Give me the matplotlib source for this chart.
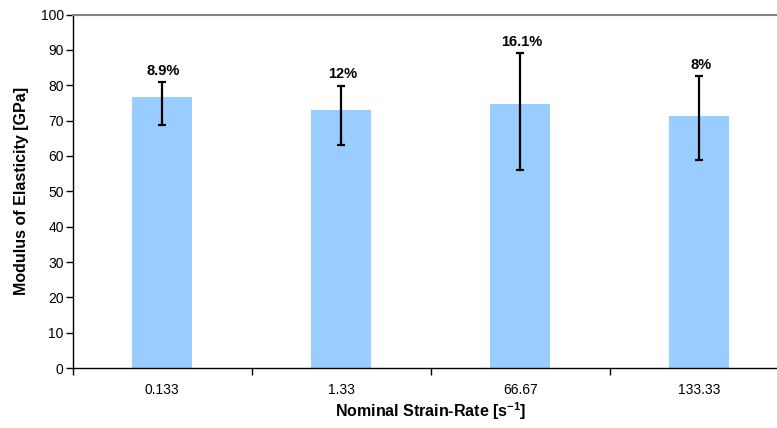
import numpy as np
import matplotlib.pyplot as plt

plt.rcParams['font.family'] = ['Liberation Sans', 'DejaVu Sans']
plt.rcParams['mathtext.fontset'] = 'custom'
plt.rcParams['mathtext.rm'] = 'Liberation Sans'
plt.rcParams['mathtext.bf'] = 'Liberation Sans:bold'

# datos
rates = ['0.133', '1.33', '66.67', '133.33']
modulus = [76.7, 73.0, 74.7, 71.3]
err_high = [81.0, 79.9, 89.2, 82.6]
err_low = [68.8, 63.0, 56.1, 58.8]
cov_labels = ['8.9%', '12%', '16.1%', '8%']

fig = plt.figure(figsize=(7.77, 4.28), dpi=100)
ax = fig.add_axes([0.0936, 0.14, 0.9215, 0.826])

x = np.arange(len(rates))
yerr = [np.array(modulus) - np.array(err_low), np.array(err_high) - np.array(modulus)]

ax.bar(x, modulus, width=0.335, color='#99CCFF', zorder=2)
ax.errorbar(x, modulus, yerr=yerr, fmt='none', ecolor='black',
            elinewidth=1.6, capsize=3, capthick=1.6, zorder=3)

for xi, top, lab in zip(x, err_high, cov_labels):
    ax.annotate(lab, (xi, top), xytext=(1, 3), textcoords='offset points',
                ha='center', va='bottom', fontsize=10.5, fontweight='bold')

ax.set_xlim(-0.5, len(rates) - 0.5)
ax.set_ylim(0, 100)
ax.set_yticks(np.arange(0, 101, 10))
ax.set_xticks(x)
ax.set_xticklabels(rates)
ax.set_xticks(np.arange(-0.5, len(rates), 1.0), minor=True)
ax.tick_params(axis='x', which='major', length=0, pad=11, labelsize=10)
ax.tick_params(axis='x', which='minor', length=5, width=1)
ax.tick_params(axis='y', length=5, width=1, pad=1.5, labelsize=10)

ax.spines['top'].set_color('#808080')
ax.spines['top'].set_linewidth(1.5)
ax.spines['right'].set_visible(False)
ax.spines['left'].set_linewidth(1)
ax.spines['bottom'].set_linewidth(1)

ax.set_xlabel('Nominal Strain-Rate [s$^{\\mathbf{-1}}$]', fontsize=11.5, fontweight='bold', labelpad=2)
ax.set_ylabel('Modulus of Elasticity [GPa]', fontsize=11.5, fontweight='bold', labelpad=8)

fig.savefig('out.png', dpi=100)
